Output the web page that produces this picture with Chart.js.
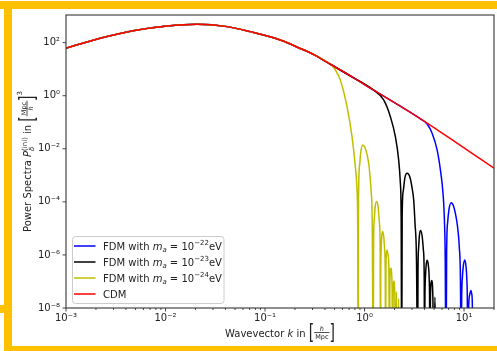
<!DOCTYPE html>
<html>
<head>
<meta charset="utf-8">
<script src="https://cdn.jsdelivr.net/npm/chart.js@4.4.1/dist/chart.umd.min.js"></script>
<style>
  html, body { margin: 0; padding: 0; background: #fff; }
  #wrap { position: relative; width: 497px; height: 351px; overflow: hidden; }
  #chart { position: absolute; left: 0; top: 0; }
  .frame { position: absolute; background: #ffc000; }
</style>
</head>
<body>
<div id="wrap">
  <canvas id="chart" width="497" height="351"></canvas>
  <div class="frame" style="left:0;top:1px;width:497px;height:8px"></div>
  <div class="frame" style="left:4px;top:1px;width:8px;height:350px"></div>
  <div class="frame" style="left:4px;top:346px;width:493px;height:5px"></div>
  <div class="frame" style="left:0;top:305px;width:4px;height:8px"></div>
</div>
<script>
// wavevector k [h/Mpc] and power P [(Mpc/h)^3]
const cdmK = [0.001, 0.002198, 0.004721, 0.01038, 0.02079, 0.04166, 0.07097, 0.1422,
              0.2260, 0.3126, 0.4527, 0.7196, 1.226, 3.170, 6.808, 20.22];
const cdmP = [61.5, 146.6, 283.1, 425.6, 494, 401, 260, 126.5,
              60.4, 34.4, 15.35, 5.56, 1.648, 0.1884, 0.02864, 0.001811];

// FDM curves after they leave the CDM curve (1e-11 = a zero of the oscillation)
const fdm24K = [0.5084, 0.5707, 0.6667, 0.7485, 0.8080, 0.8404, 0.8543, 0.8622,
                0.8702, 0.8906, 0.9180, 0.9614, 1.0139, 1.0622, 1.1126, 1.1626, 1.1953, 1.2232,
                1.2334, 1.2520, 1.2812, 1.3203, 1.3701, 1.4088, 1.4350, 1.4488,
                1.4555, 1.4689, 1.4894, 1.5174, 1.5603, 1.5929, 1.6151, 1.6267,
                1.6417, 1.6569, 1.6803, 1.7234, 1.7558, 1.7803,
                1.7968, 1.8349, 1.8910, 1.9173,
                1.9351, 1.9716, 2.0175, 2.0413,
                2.0937, 2.1528,
                2.198, 2.2550];
const fdm24P = [9.354, 3.926, 0.3871, 0.02864, 0.002119, 2.805e-4, 8.71e-6, 1e-11,
                1.177e-4, 2.251e-3, 7.59e-3, 1.393e-2, 1.074e-2, 5.85e-3, 2.064e-3, 2.805e-4, 1.345e-5, 1e-11,
                2.475e-6, 2.167e-5, 6.754e-5, 1.033e-4, 6.41e-5, 1.745e-5, 1.993e-6, 1e-11,
                1.83e-7, 1.603e-6, 4.997e-6, 7.646e-6, 4.745e-6, 1.535e-6, 1.753e-7, 1e-11,
                3.219e-7, 9.947e-7, 1.535e-6, 9.947e-7, 3.219e-7, 1e-11,
                6.751e-8, 3.219e-7, 6.751e-8, 1e-11,
                2.184e-8, 1.041e-7, 2.184e-8, 1e-11,
                4.185e-8, 1e-11,
                2.281e-8, 1e-11];

const fdm23K = [1.5567, 1.8180, 2.0413, 2.2031, 2.2918, 2.3345, 2.3615,
                2.3894, 2.4506, 2.5431, 2.6764, 2.8551, 3.0048, 3.1189, 3.2137, 3.3273, 3.4212,
                3.4449, 3.4936, 3.5587, 3.6590, 3.7970, 3.9034, 3.9774, 4.0142,
                4.0421, 4.0899, 4.1660, 4.2640, 4.3845, 4.4660, 4.5073, 4.5385,
                4.5920, 4.7326, 4.8654, 4.9229,
                5.0954, 5.2756];
const fdm23P = [0.6921, 0.1624, 0.02864, 3.790e-3, 5.016e-4, 2.075e-5, 1e-11,
                2.936e-5, 2.571e-4, 7.945e-4, 1.195e-3, 8.665e-4, 3.336e-4, 1.177e-4, 1.6e-5, 6.447e-7, 1e-11,
                2.086e-7, 1.748e-6, 5.403e-6, 8.342e-6, 4.955e-6, 1.535e-6, 1.753e-7, 1e-11,
                1.543e-8, 1.351e-7, 4.176e-7, 6.281e-7, 3.829e-7, 1.239e-7, 1.543e-8, 1e-11,
                2.281e-8, 1.088e-7, 2.281e-8, 1e-11,
                2.598e-8, 1e-11];

const fdm22K = [3.6422, 4.2542, 4.7765, 5.3627, 5.7875, 6.1054, 6.3212, 6.4700, 6.5903,
                6.6822, 6.8391, 7.0814, 7.4164, 7.8230, 8.1937, 8.5814, 8.9686, 9.2000, 9.3713,
                9.4602, 9.6140, 9.8628, 10.186, 10.450, 10.671, 10.795, 10.869,
                11.152, 11.385, 11.733, 11.953, 12.119, 12.232];
const fdm22P = [0.1330, 0.08619, 0.03846, 9.026e-3, 1.591e-3, 2.805e-4, 3.201e-5, 6.447e-7, 1e-11,
                1.215e-6, 1.641e-5, 5.531e-5, 9.314e-5, 7.178e-5, 3.585e-5, 1.265e-5, 1.875e-6, 1.136e-7, 1e-11,
                1.543e-8, 1.351e-7, 4.176e-7, 6.447e-7, 3.829e-7, 1.136e-7, 1.297e-8, 1e-11,
                1.297e-8, 3.09e-8, 4.567e-8, 3.371e-8, 1.297e-8, 1e-11];

const xTickValues = [1e-3, 1e-2, 1e-1, 1, 10];
const yTickValues = [1e-8, 1e-6, 1e-4, 1e-2, 1, 1e2];

const legendExponents = ['\u221222', '\u221223', '\u221224'];
const legendColors = ['#0000ff', '#000000', '#bfbf00', '#ff0000'];

const TEXT = '#222';
const FF = '"DejaVu Sans"';
const SUP = { '-': '\u207b', '0': '\u2070', '1': '\u00b9', '2': '\u00b2', '3': '\u00b3',
              '4': '\u2074', '5': '\u2075', '6': '\u2076', '7': '\u2077', '8': '\u2078', '9': '\u2079' };

function pow10Label(v) {
    const e = Math.round(Math.log10(v));
    return '10' + String(e).split('').map(c => SUP[c]).join('');
}

function pts(ks, ps) {
    return ks.map((k, i) => ({ x: k, y: ps[i] }));
}

// FDM follows CDM until it departs
function withCdmHead(ks, ps) {
    const head = pts(cdmK, cdmP).filter(p => p.x < ks[0]);
    return head.concat(pts(ks, ps));
}

// --- little text layout helpers (sub/superscripts, fractions, tall brackets)
function font(size, italic) {
    return (italic ? 'italic ' : '') + size + 'px ' + FF;
}

function pieceWidth(ctx, p) {
    if (p.frac) {
        ctx.font = font(p.size, p.frac[0].italic);
        const a = ctx.measureText(p.frac[0].t).width;
        ctx.font = font(p.size, p.frac[1].italic);
        const b = ctx.measureText(p.frac[1].t).width;
        return Math.max(a, b) + 2;
    }
    if (p.stack) return Math.max(...p.stack.map(q => pieceWidth(ctx, q)));
    ctx.font = font(p.size, p.italic);
    return ctx.measureText(p.t).width + (p.pad || 0);
}

function drawPiece(ctx, p, x, y) {
    const w = pieceWidth(ctx, p);
    if (p.frac) {
        const bar = y - p.axis;
        ctx.fillRect(x, bar - 0.4, w, 0.8);
        ctx.textAlign = 'center';
        ctx.font = font(p.size, p.frac[0].italic);
        ctx.fillText(p.frac[0].t, x + w / 2, bar - 1.5);
        ctx.font = font(p.size, p.frac[1].italic);
        ctx.fillText(p.frac[1].t, x + w / 2, bar + 6);
        ctx.textAlign = 'left';
    } else if (p.stack) {
        p.stack.forEach(q => drawPiece(ctx, q, x, y));
    } else if (p.tall) {
        ctx.font = font(p.size, false);
        const m = ctx.measureText(p.t);
        const gh = m.actualBoundingBoxAscent + m.actualBoundingBoxDescent;
        ctx.save();
        ctx.translate(x, y - p.mid);
        ctx.scale(1, p.tall / gh);
        ctx.fillText(p.t, 0, (m.actualBoundingBoxAscent - m.actualBoundingBoxDescent) / 2);
        ctx.restore();
    } else {
        ctx.font = font(p.size, p.italic);
        ctx.fillText(p.t, x, y + (p.dy || 0));
    }
    return w;
}

function drawRuns(ctx, pieces, x, y, center) {
    ctx.textAlign = 'left';
    ctx.textBaseline = 'alphabetic';
    let total = 0;
    pieces.forEach(p => { total += pieceWidth(ctx, p); });
    let cx = center ? x - total / 2 : x;
    pieces.forEach(p => { cx += drawPiece(ctx, p, cx, y); });
}

const xTitle = [
    { t: 'Wavevector ', size: 10 },
    { t: 'k', size: 10, italic: true },
    { t: ' in ', size: 10 },
    { t: '[', size: 14, tall: 19, mid: 4 },
    { frac: [{ t: 'h', italic: true }, { t: 'Mpc' }], size: 6.5, axis: 4 },
    { t: ']', size: 14, tall: 19, mid: 4 }
];

const yTitle = [
    { t: 'Power Spectra ', size: 10 },
    { t: 'P', size: 10, italic: true },
    { stack: [{ t: '\u03b4', size: 7, italic: true, dy: 2.5 }, { t: '(ini)', size: 7, dy: -4.5 }] },
    { t: ' in ', size: 10 },
    { t: '[', size: 14, tall: 19, mid: 4 },
    { frac: [{ t: 'Mpc' }, { t: 'h', italic: true }], size: 6.5, axis: 4 },
    { t: ']', size: 14, tall: 19, mid: 4 },
    { t: '3', size: 7, dy: -9 }
];

function legendRow(i) {
    if (i === 3) return [{ t: 'CDM', size: 10 }];
    return [
        { t: 'FDM with ', size: 10 },
        { t: 'm', size: 10, italic: true },
        { t: 'a', size: 7, italic: true, dy: 2 },
        { t: ' = 10', size: 10 },
        { t: legendExponents[i], size: 7, dy: -4.5 },
        { t: 'eV', size: 10 }
    ];
}

const decorPlugin = {
    id: 'decor',
    afterDatasetsDraw(chart) {
        const { ctx, chartArea: a, scales: { x, y } } = chart;
        ctx.save();
        ctx.strokeStyle = '#333';
        ctx.lineWidth = 1.1;
        ctx.strokeRect(a.left, a.top, a.right - a.left, a.bottom - a.top);

        ctx.lineWidth = 0.9;
        ctx.beginPath();
        xTickValues.forEach(v => {
            const px = x.getPixelForValue(v);
            ctx.moveTo(px, a.bottom); ctx.lineTo(px, a.bottom + 3.5);
        });
        for (let e = -3; e <= 1; e++) {
            for (let m = 2; m <= 9; m++) {
                const v = m * Math.pow(10, e);
                if (v > x.max) continue;
                const px = x.getPixelForValue(v);
                ctx.moveTo(px, a.bottom); ctx.lineTo(px, a.bottom + 2);
            }
        }
        yTickValues.forEach(v => {
            const py = y.getPixelForValue(v);
            ctx.moveTo(a.left, py); ctx.lineTo(a.left - 3.5, py);
        });
        ctx.stroke();
        ctx.restore();
    },
    afterDraw(chart) {
        const { ctx, chartArea: a } = chart;
        ctx.save();
        ctx.fillStyle = TEXT;

        // axis titles
        drawRuns(ctx, xTitle, (a.left + a.right) / 2, 336.5, true);
        ctx.save();
        ctx.translate(31, (a.top + a.bottom) / 2);
        ctx.rotate(-Math.PI / 2);
        drawRuns(ctx, yTitle, 0, 0, true);
        ctx.restore();

        // legend
        const lx = a.left + 6.5, ly = 236.5, lw = 151.5, lh = 67;
        ctx.fillStyle = 'rgba(255,255,255,0.8)';
        ctx.strokeStyle = '#cccccc';
        ctx.lineWidth = 1;
        ctx.beginPath();
        ctx.roundRect(lx, ly, lw, lh, 3);
        ctx.fill();
        ctx.stroke();
        for (let i = 0; i < 4; i++) {
            const ry = 246 + i * 16;
            ctx.strokeStyle = legendColors[i];
            ctx.lineWidth = 1.5;
            ctx.beginPath();
            ctx.moveTo(a.left + 8, ry);
            ctx.lineTo(a.left + 29.5, ry);
            ctx.stroke();
            ctx.fillStyle = TEXT;
            drawRuns(ctx, legendRow(i), a.left + 37, ry + 3.5, false);
        }
        ctx.restore();
    }
};

const common = {
    borderWidth: 1.5,
    pointRadius: 0,
    fill: false,
    cubicInterpolationMode: 'monotone',
    clip: 0
};

const tickFont = { family: 'DejaVu Sans', size: 10 };

new Chart(document.getElementById('chart'), {
    type: 'line',
    data: {
        datasets: [
            { ...common, label: 'CDM', data: pts(cdmK, cdmP), borderColor: legendColors[3], order: 0 },
            { ...common, label: 'FDM 1e-24 eV', data: withCdmHead(fdm24K, fdm24P), borderColor: legendColors[2], order: 1 },
            { ...common, label: 'FDM 1e-23 eV', data: withCdmHead(fdm23K, fdm23P), borderColor: legendColors[1], order: 2 },
            { ...common, label: 'FDM 1e-22 eV', data: withCdmHead(fdm22K, fdm22P), borderColor: legendColors[0], order: 3 }
        ]
    },
    options: {
        responsive: false,
        animation: false,
        devicePixelRatio: 1,
        layout: { padding: { top: 15, right: 3, left: 0, bottom: 0 } },
        elements: { line: { capBezierPoints: false } },
        plugins: { legend: { display: false }, tooltip: { enabled: false } },
        scales: {
            x: {
                type: 'logarithmic',
                min: 1e-3,
                max: 20,
                afterBuildTicks: s => { s.ticks = xTickValues.map(v => ({ value: v })); },
                afterFit: s => { s.height = 43; },
                grid: { display: false, drawTicks: false },
                border: { display: false },
                ticks: {
                    autoSkip: false, maxRotation: 0, minRotation: 0, padding: 4,
                    color: TEXT, font: tickFont,
                    callback: v => pow10Label(v)
                }
            },
            y: {
                type: 'logarithmic',
                min: 1e-8,
                max: 1.1e3,
                afterBuildTicks: s => { s.ticks = yTickValues.map(v => ({ value: v })); },
                afterFit: s => { s.width = 66; },
                grid: { display: false, drawTicks: false },
                border: { display: false },
                ticks: {
                    autoSkip: false, padding: 6,
                    color: TEXT, font: tickFont,
                    callback: v => pow10Label(v)
                }
            }
        }
    },
    plugins: [decorPlugin]
});
</script>
</body>
</html>
